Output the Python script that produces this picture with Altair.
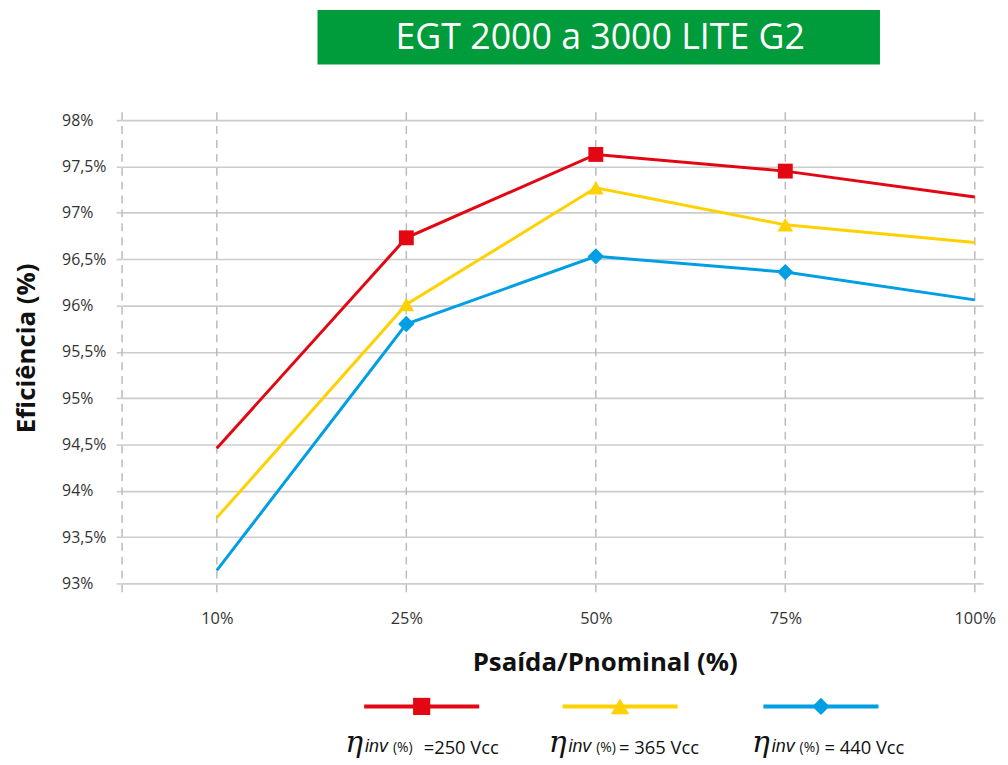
import altair as alt
import pandas as pd

# ---------------- data ----------------
categories = ["10%", "25%", "50%", "75%", "100%"]
series_names = ["250 Vcc", "365 Vcc", "440 Vcc"]
eff_250 = [94.46, 96.73, 97.63, 97.45, 97.17]
eff_365 = [93.71, 96.01, 97.27, 96.87, 96.68]
eff_440 = [93.14, 95.80, 96.53, 96.36, 96.06]
y_ticks = [93.0, 93.5, 94.0, 94.5, 95.0, 95.5, 96.0, 96.5, 97.0, 97.5, 98.0]
legend_values = ["=250 Vcc", "= 365 Vcc", "= 440 Vcc"]

title_text = "EGT 2000 a 3000 LITE G2"
x_title = "Psaída/Pnominal (%)"
y_title = "Eficiência (%)"

colors = ["#E30613", "#FFD100", "#009FE3"]
shapes = ["square", "triangle-up", "diamond"]
GREEN = "#009B3A"
FONT = "Open Sans"

rows = []
for name, vals in zip(series_names, [eff_250, eff_365, eff_440]):
    for i, (c, v) in enumerate(zip(categories, vals)):
        rows.append({"idx": i, "cat": c, "eff": v, "series": name})
df = pd.DataFrame(rows)

grid_df = pd.DataFrame({"idx": [-0.5] + list(range(len(categories)))})
one = pd.DataFrame({"k": [0]})

W, H = 868, 467
x_scale = alt.Scale(domain=[-0.5, 4.044], nice=False, zero=False)
y_scale = alt.Scale(domain=[93, 98], nice=False, zero=False)
color_scale = alt.Scale(domain=series_names, range=colors)
shape_scale = alt.Scale(domain=series_names, range=shapes)
size_scale = alt.Scale(domain=series_names, range=[225, 270, 250])

x_label_expr = " : ".join(
    f"datum.value == {i} ? '{c}'" for i, c in enumerate(categories)
) + " : ''"
y_label_expr = "replace(replace(format(datum.value, '.1f'), '.0', ''), '.', ',') + '%'"

x_axis = alt.Axis(
    values=list(range(len(categories))),
    labelExpr=x_label_expr,
    grid=False, ticks=False, domain=False,
    labelPadding=27, labelFontSize=16.5, labelColor="#333333",
    labelFont=FONT, title=None,
)
y_axis = alt.Axis(
    values=y_ticks,
    labelExpr=y_label_expr,
    grid=True, gridColor="#cccccc", gridWidth=1.6,
    ticks=True, tickSize=6, tickColor="#cccccc", tickWidth=1.6,
    domain=False, labelAlign="left", labelBaseline="middle",
    labelPadding=55, labelFontSize=16, labelColor="#333333",
    labelFont=FONT, title=None,
)

base = alt.Chart(df).encode(
    x=alt.X("idx:Q", scale=x_scale, axis=x_axis),
    y=alt.Y("eff:Q", scale=y_scale, axis=y_axis),
    color=alt.Color("series:N", scale=color_scale, legend=None),
)

lines = base.mark_line(strokeWidth=3).encode(detail="series:N")
points = base.transform_filter(
    "datum.idx >= 1 && datum.idx <= 3"
).mark_point(filled=True, opacity=1).encode(
    shape=alt.Shape("series:N", scale=shape_scale, legend=None),
    size=alt.Size("series:N", scale=size_scale, legend=None),
)

# vertical dashed grid lines
vgrid = alt.Chart(grid_df).mark_rule(
    color="#bbbbbb", strokeWidth=1.5, strokeDash=[8, 6]
).encode(
    x=alt.X("idx:Q", scale=x_scale, axis=x_axis),
    y=alt.value(-8),
    y2=alt.value(H + 15),
)

layers = [vgrid, lines, points]

# title box
layers.append(alt.Chart(one).mark_rect(color=GREEN).encode(
    x=alt.value(197), x2=alt.value(764), y=alt.value(-111), y2=alt.value(-56)))
layers.append(alt.Chart(one).mark_text(
    color="white", fontSize=36, font=FONT, fontWeight=500,
    align="center", baseline="middle").encode(
    x=alt.value(482), y=alt.value(-83), text=alt.value(title_text)))

# axis titles
layers.append(alt.Chart(one).mark_text(
    color="#111111", fontSize=26, font=FONT, fontWeight="bold",
    align="center", baseline="middle").encode(
    x=alt.value(487), y=alt.value(547), text=alt.value(x_title)))
layers.append(alt.Chart(one).mark_text(
    color="#111111", fontSize=26, font=FONT, fontWeight="bold",
    align="center", baseline="middle", angle=270).encode(
    x=alt.value(-96), y=alt.value(230), text=alt.value(y_title)))

# custom legend
centers = [302, 502, 704.5]
eta_x = [225, 430, 635]
val_x = [304, 501, 708]
marker_sizes = [300, 340, 300]
LY = 591
for i in range(3):
    c = centers[i]
    layers.append(alt.Chart(one).mark_rule(color=colors[i], strokeWidth=4).encode(
        x=alt.value(c - 58), x2=alt.value(c + 58), y=alt.value(LY)))
    layers.append(alt.Chart(one).mark_point(
        shape=shapes[i], filled=True, opacity=1, size=marker_sizes[i], color=colors[i]).encode(
        x=alt.value(c), y=alt.value(LY)))
    e = eta_x[i]
    layers.append(alt.Chart(one).mark_text(
        color="#111111", fontSize=30, font="DejaVu Serif", fontStyle="italic",
        align="left", baseline="alphabetic").encode(
        x=alt.value(e), y=alt.value(637), text=alt.value("η")))
    layers.append(alt.Chart(one).mark_text(
        color="#111111", fontSize=18, font="Liberation Sans", fontStyle="italic",
        align="left", baseline="alphabetic").encode(
        x=alt.value(e + 20), y=alt.value(637), text=alt.value("inv")))
    layers.append(alt.Chart(one).mark_text(
        color="#111111", fontSize=14, font=FONT,
        align="left", baseline="alphabetic").encode(
        x=alt.value(e + 48), y=alt.value(637), text=alt.value("(%)")))
    layers.append(alt.Chart(one).mark_text(
        color="#111111", fontSize=18.5, font=FONT,
        align="left", baseline="alphabetic").encode(
        x=alt.value(val_x[i]), y=alt.value(639), text=alt.value(legend_values[i])))

chart = alt.layer(*layers).properties(
    width=W, height=H,
    padding={"left": 115, "top": 110, "right": 17, "bottom": 180},
    autosize=alt.AutoSizeParams(type="none"),
    background="white",
).configure_view(stroke=None)

chart.save("out.html", embed_options={"renderer": "svg", "actions": False})
